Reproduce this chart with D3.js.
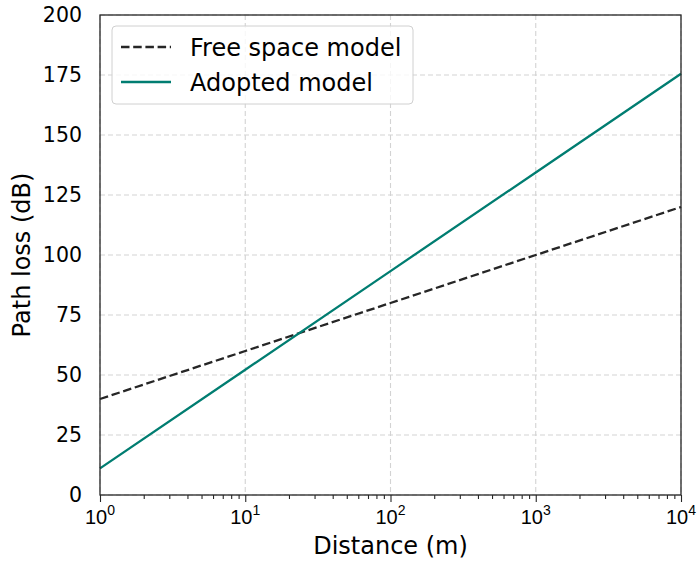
<!DOCTYPE html>
<html><head><meta charset="utf-8">
<script src="https://d3js.org/d3.v7.min.js"></script>
<style>body{margin:0;background:#fff}svg{display:block;font-family:"DejaVu Sans",sans-serif}</style>
</head><body><div id="chart"></div>
<script>
const distance = [1, 10, 100, 1000, 10000];
const freeSpace = [40, 60, 80, 100, 120];
const adopted = [11.1, 52.2, 93.3, 134.4, 175.5];
const yTicks = [0, 25, 50, 75, 100, 125, 150, 175, 200];
const xTicks = [1, 10, 100, 1000, 10000];
const xExponents = ["0", "1", "2", "3", "4"];
const seriesNames = ["Free space model", "Adopted model"];

const W = 698, H = 561;
const m = {l:100, r:17, t:15, b:66};
const svg = d3.select("#chart").append("svg").attr("width", W).attr("height", H);
const x = d3.scaleLog().domain([1, 10000]).range([m.l, W - m.r]);
const y = d3.scaleLinear().domain([0, 200]).range([H - m.b, m.t]);

// grid
const g = svg.append("g");
g.selectAll(".gx").data(xTicks).join("line")
  .attr("x1", d => x(d)).attr("x2", d => x(d)).attr("y1", m.t).attr("y2", H - m.b)
  .attr("stroke", "#d3d3d3").attr("stroke-width", 1.1).attr("stroke-dasharray", "5,3");
g.selectAll(".gy").data(yTicks).join("line")
  .attr("y1", d => y(d)).attr("y2", d => y(d)).attr("x1", m.l).attr("x2", W - m.r)
  .attr("stroke", "#d3d3d3").attr("stroke-width", 1.1).attr("stroke-dasharray", "5,3");

// lines
const line = arr => d3.line().x((d, i) => x(distance[i])).y(d => y(d))(arr);
svg.append("path").attr("d", line(freeSpace)).attr("fill", "none")
  .attr("stroke", "#262626").attr("stroke-width", 2.3).attr("stroke-dasharray", "8.5,3.7");
svg.append("path").attr("d", line(adopted)).attr("fill", "none")
  .attr("stroke", "#007d71").attr("stroke-width", 2.3);

// axes
const minor = [];
for (let e = 0; e < 4; e++) for (let k = 2; k < 10; k++) minor.push(k * Math.pow(10, e));
const xAxis = svg.append("g").attr("transform", `translate(0,${H - m.b})`);
xAxis.call(d3.axisBottom(x).tickValues(xTicks).tickFormat("").tickSize(7).tickSizeOuter(0));
xAxis.append("g").call(d3.axisBottom(x).tickValues(minor).tickFormat("").tickSize(4).tickSizeOuter(0));
xAxis.selectAll("path.domain").attr("stroke", "none");
xAxis.selectAll("line").attr("stroke", "#262626").attr("stroke-width", 1.1);
xAxis.selectAll(".lbl").data(xTicks).join("text")
  .attr("x", d => x(d)).attr("y", 29).attr("text-anchor", "middle")
  .attr("font-size", 20).attr("fill", "#000")
  .each(function(d, i){
    const t = d3.select(this);
    t.append("tspan").text("10");
    t.append("tspan").attr("dy", -9).attr("font-size", 14).text(xExponents[i]);
  });

const yAxis = svg.append("g").attr("transform", `translate(${m.l},0)`);
yAxis.call(d3.axisLeft(y).tickValues(yTicks).tickSize(0).tickSizeOuter(0));
yAxis.selectAll("path.domain").attr("stroke", "none");
yAxis.selectAll("text").attr("font-size", 20.5).attr("fill", "#000")
  .attr("font-family", "DejaVu Sans").attr("x", -18);

// frame
svg.append("rect").attr("x", m.l).attr("y", m.t).attr("width", W - m.r - m.l).attr("height", H - m.b - m.t)
  .attr("fill", "none").attr("stroke", "#262626").attr("stroke-width", 1.3);

// labels
svg.append("text").attr("x", (m.l + W - m.r) / 2).attr("y", 554).attr("text-anchor", "middle")
  .attr("font-size", 24).text("Distance (m)");
svg.append("text").attr("transform", `translate(30,${(m.t + H - m.b) / 2}) rotate(-90)`)
  .attr("text-anchor", "middle").attr("font-size", 24).text("Path loss (dB)");

// legend
const lg = svg.append("g").attr("transform", "translate(112,26)");
lg.append("rect").attr("width", 301).attr("height", 78).attr("rx", 4)
  .attr("fill", "#fff").attr("fill-opacity", 0.8).attr("stroke", "#d0d0d0");
const styles = [{c:"#262626", dash:"8.5,3.7"}, {c:"#007d71", dash:null}];
seriesNames.forEach((n, i) => {
  const yy = 21 + i * 35;
  lg.append("line").attr("x1", 9).attr("x2", 59).attr("y1", yy).attr("y2", yy)
    .attr("stroke", styles[i].c).attr("stroke-width", 2.3).attr("stroke-dasharray", styles[i].dash);
  lg.append("text").attr("x", 78).attr("y", yy + 8.5).attr("font-size", 24).text(n);
});
</script></body></html>
